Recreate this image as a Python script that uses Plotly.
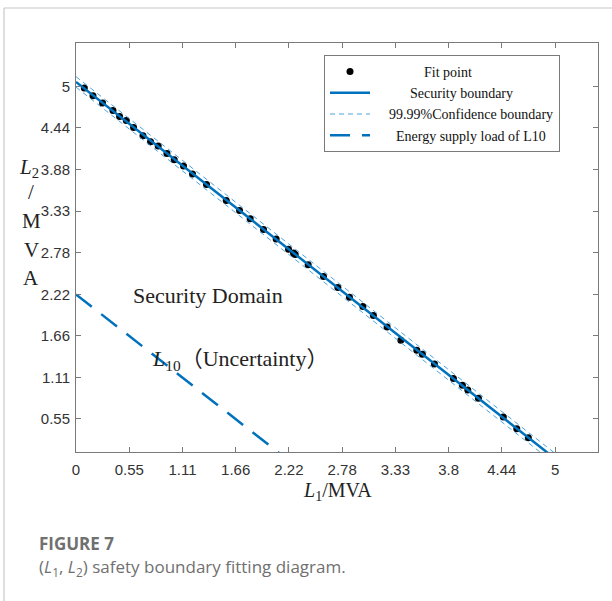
import plotly.graph_objects as go

# ---- data ----
tick_vals = [i * 5 / 9 for i in range(10)]
x_tick_text = ["0", "0.55", "1.11", "1.66", "2.22", "2.78", "3.33", "3.8", "4.44", "5"]
y_tick_text = ["0", "0.55", "1.11", "1.66", "2.22", "2.78", "3.33", "3.88", "4.44", "5"]

fit_x = [0.087, 0.177, 0.277, 0.386, 0.455, 0.525, 0.601, 0.699, 0.778, 0.858,
         0.949, 1.025, 1.122, 1.216, 1.362, 1.568, 1.707, 1.818, 1.957, 2.089,
         2.218, 2.270, 2.288, 2.423, 2.583, 2.733, 2.854, 2.994, 3.104, 3.247,
         3.390, 3.557, 3.615, 3.741, 3.939, 4.033, 4.089, 4.200, 4.460, 4.600, 4.721]
fit_y = [4.979, 4.876, 4.778, 4.679, 4.599, 4.545, 4.452, 4.341, 4.260, 4.203,
         4.104, 4.020, 3.935, 3.828, 3.689, 3.475, 3.342, 3.230, 3.087, 2.959,
         2.825, 2.772, 2.753, 2.615, 2.459, 2.312, 2.183, 2.058, 1.937, 1.786,
         1.608, 1.474, 1.421, 1.291, 1.095, 1.006, 0.943, 0.832, 0.582, 0.426, 0.305]

boundary_x = [0.0, 5.2]
boundary_y = [5.06, -0.176]
conf_offset = 0.07
conf_upper_y = [v + conf_offset for v in boundary_y]
conf_lower_y = [v - conf_offset for v in boundary_y]

l10_x = [0.0, 2.22]
l10_y = [2.22, 0.0]

legend_names = ["Fit point", "Security boundary", "99.99%Confidence boundary",
                "Energy supply load of L10"]
legend_pad = [14, 10, 4, 6]

X_RANGE = [0, 5.448]
Y_RANGE = [0.114, 5.58]

# ---- layout geometry ----
W, H = 612, 601
ML, MR, MT, MB = 76, 14, 43, 149
PW, PH = W - ML - MR, H - MT - MB

def px2paper_x(px):
    return (px - ML) / PW

def py2paper_y(py):
    return (H - MB - py) / PH

BLUE = "#0072BD"
LIGHTBLUE = "#4DA3DF"
SERIF = "Liberation Serif, Times New Roman, serif"
SANS = "Arial, Liberation Sans, sans-serif"
CAP = "Open Sans, Noto Sans, sans-serif"

def lname(i):
    return "&nbsp;" * legend_pad[i] + legend_names[i]

fig = go.Figure()

fig.add_trace(go.Scatter(x=fit_x, y=fit_y, mode="markers", name=lname(0),
                         marker=dict(color="black", size=7)))
fig.add_trace(go.Scatter(x=boundary_x, y=boundary_y, mode="lines", name=lname(1),
                         line=dict(color=BLUE, width=2.5)))
fig.add_trace(go.Scatter(x=boundary_x + [None] + boundary_x,
                         y=conf_upper_y + [None] + conf_lower_y,
                         mode="lines", name=lname(2),
                         line=dict(color=LIGHTBLUE, width=1, dash="5px,4px")))
fig.add_trace(go.Scatter(x=l10_x, y=l10_y, mode="lines", name=lname(3),
                         line=dict(color=BLUE, width=2.5, dash="20px,12px")))

annotations = [
    dict(x=1.38, y=2.20, xref="x", yref="y", xanchor="center", yanchor="middle",
         text="Security Domain", showarrow=False,
         font=dict(family=SERIF, size=22, color="#222")),
    dict(x=0.775, y=1.345, xref="x", yref="y", xanchor="left", yanchor="middle",
         text="<i>L</i><sub>10</sub>（Uncertainty）", showarrow=False,
         font=dict(family=SERIF + ", Noto Sans CJK SC", size=22, color="#222")),
    dict(x=px2paper_x(337), y=py2paper_y(491), xref="paper", yref="paper",
         xanchor="center", yanchor="middle",
         text="<i>L</i><sub>1</sub>/MVA", showarrow=False,
         font=dict(family=SERIF, size=20, color="#222")),
    dict(x=px2paper_x(37), y=py2paper_y(543), xref="paper", yref="paper",
         xanchor="left", yanchor="middle",
         text="<b>FIGURE 7</b>", showarrow=False,
         font=dict(family=CAP, size=17, color="#707070")),
    dict(x=px2paper_x(37), y=py2paper_y(567), xref="paper", yref="paper",
         xanchor="left", yanchor="middle",
         text="(<i>L</i><sub>1</sub>, <i>L</i><sub>2</sub>) safety boundary fitting diagram.",
         showarrow=False,
         font=dict(family=CAP, size=17, color="#707070")),
]
# stacked y-axis title
for txt, px, py in [("<i>L</i><sub>2</sub>", 29, 168), ("/", 31, 192), ("M", 31, 221),
                    ("V", 31, 250), ("A", 31, 278)]:
    annotations.append(dict(x=px2paper_x(px), y=py2paper_y(py), xref="paper", yref="paper",
                            xanchor="center", yanchor="middle",
                            text=txt, showarrow=False,
                            font=dict(family=SERIF, size=21, color="#222")))

shapes = [
    dict(type="line", xref="paper", yref="paper",
         x0=px2paper_x(4), x1=px2paper_x(615), y0=py2paper_y(8), y1=py2paper_y(8),
         line=dict(color="#c8c8c8", width=1.2)),
    dict(type="line", xref="paper", yref="paper",
         x0=px2paper_x(4), x1=px2paper_x(4), y0=py2paper_y(8), y1=py2paper_y(605),
         line=dict(color="#c8c8c8", width=1.2)),
]

axis_common = dict(showgrid=False, zeroline=False, showline=True, linecolor="#7a7a7a",
                   linewidth=1, mirror="ticks", ticks="inside", ticklen=5,
                   tickcolor="#7a7a7a", tickfont=dict(family=SANS, size=15, color="#333"),
                   tickvals=tick_vals)

fig.update_layout(
    width=W, height=H, margin=dict(l=ML, r=MR, t=MT, b=MB),
    paper_bgcolor="white", plot_bgcolor="white",
    xaxis=dict(range=X_RANGE, ticktext=x_tick_text, ticklabelstandoff=4, **axis_common),
    yaxis=dict(range=Y_RANGE, ticktext=y_tick_text, ticklabelstandoff=2, **axis_common),
    showlegend=True,
    legend=dict(x=px2paper_x(324), y=py2paper_y(55), xanchor="left", yanchor="top",
                bgcolor="white", bordercolor="#7a7a7a", borderwidth=1,
                font=dict(family=SERIF, size=14, color="#111"), tracegroupgap=0,
                itemwidth=40),
    annotations=annotations, shapes=shapes,
)

fig.write_html("out.html")
